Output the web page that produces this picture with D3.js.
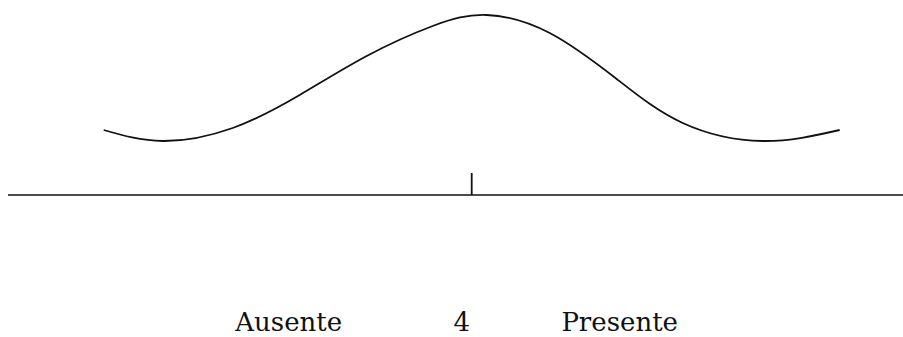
<!DOCTYPE html>
<html>
<head>
<meta charset="utf-8">
<script src="https://cdn.jsdelivr.net/npm/d3@7"></script>
<style>
  html, body { margin: 0; padding: 0; background: #fff; }
  svg { display: block; }
  .lab { font-family: "DejaVu Serif", "Liberation Serif", "Times New Roman", serif; }
</style>
</head>
<body>
<svg id="chart" width="903" height="337"></svg>
<script>
// ---- data ----
const curveX = [0.32, 0.91, 1.61, 2.28, 2.95, 3.61, 4.15, 4.78, 5.45, 6.11, 6.91, 7.68];
const curveY = [65, 54, 67, 100, 139, 169, 180, 162, 116, 72, 54, 65];
const tickValues = [4];
const tickLabels = ["4"];
const categories = ["Ausente", "Presente"];

// ---- layout ----
const axisY = 195;
const x = d3.scaleLinear().domain([0, 8]).range([71.7, 871.7]);
const y = d3.scaleLinear().domain([0, 180]).range([axisY, 15]);
const axisExtent = [x.invert(8), x.invert(903)];
const categoryPos = [2.17, 5.48];
const labelBaseline = 331;

const svg = d3.select("#chart");

// curve
const pts = curveX.map((v, i) => [v, curveY[i]]);
svg.append("path")
  .datum(pts)
  .attr("fill", "none")
  .attr("stroke", "#111")
  .attr("stroke-width", 1.8)
  .attr("d", d3.line().x(d => x(d[0])).y(d => y(d[1])).curve(d3.curveNatural));

// axis line
svg.append("line")
  .attr("x1", x(axisExtent[0])).attr("x2", x(axisExtent[1]))
  .attr("y1", axisY).attr("y2", axisY)
  .attr("stroke", "#111").attr("stroke-width", 1.6);

// ticks
svg.selectAll("line.tick").data(tickValues).enter().append("line")
  .attr("class", "tick")
  .attr("x1", d => x(d)).attr("x2", d => x(d))
  .attr("y1", axisY - 22).attr("y2", axisY)
  .attr("stroke", "#111").attr("stroke-width", 1.8);

// tick labels
svg.selectAll("text.ticklab").data(tickLabels).enter().append("text")
  .attr("class", "ticklab lab")
  .attr("x", (d, i) => x(tickValues[i]) - 10)
  .attr("y", labelBaseline)
  .attr("text-anchor", "middle")
  .style("font-size", "26px")
  .attr("fill", "#111")
  .text(d => d);

// category labels
svg.selectAll("text.cat").data(categories).enter().append("text")
  .attr("class", "cat lab")
  .attr("x", (d, i) => x(categoryPos[i]))
  .attr("y", labelBaseline)
  .attr("text-anchor", "middle")
  .style("font-size", "26px")
  .attr("fill", "#111")
  .text(d => d);
</script>
</body>
</html>
